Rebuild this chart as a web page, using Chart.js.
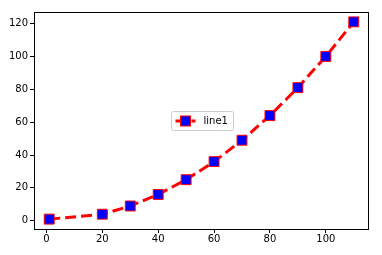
<!DOCTYPE html>
<html><head><meta charset="utf-8">
<script src="https://cdn.jsdelivr.net/npm/chart.js@4/dist/chart.umd.min.js"></script>
<style>html,body{margin:0;padding:0;background:#fff}canvas{display:block}</style>
</head><body>
<canvas id="c" width="382" height="255"></canvas>
<script>
const xValues = [1, 20, 30, 40, 50, 60, 70, 80, 90, 100, 110];
const yValues = [1, 4, 9, 16, 25, 36, 49, 64, 81, 100, 121];
const seriesLabel = 'line1';
const xTicks = [0, 20, 40, 60, 80, 100];
const yTicks = [0, 20, 40, 60, 80, 100, 120];

const FONT = {family: 'DejaVu Sans', size: 10};

const framePlugin = {
  id: 'frame',
  afterDraw(chart) {
    const {ctx, chartArea: a} = chart;
    ctx.save();
    ctx.strokeStyle = '#000';
    ctx.lineWidth = 1;
    ctx.strokeRect(Math.round(a.left) + 0.5, Math.round(a.top) + 0.5,
      Math.round(a.right - a.left) - 1, Math.round(a.bottom - a.top));
    ctx.restore();
  }
};

const legendPlugin = {
  id: 'mplLegend',
  afterDatasetsDraw(chart) {
    const {ctx} = chart;
    const ds = chart.data.datasets[0];
    const x0 = 171.5, y0 = 111.5, w = 62, h = 19;
    ctx.save();
    ctx.fillStyle = 'rgba(255,255,255,0.8)';
    ctx.strokeStyle = '#cccccc';
    ctx.lineWidth = 1;
    ctx.beginPath();
    ctx.roundRect(x0, y0, w, h, 2);
    ctx.fill();
    ctx.stroke();
    const cy = y0 + h / 2;
    ctx.strokeStyle = ds.borderColor;
    ctx.lineWidth = 3;
    ctx.setLineDash([5, 3]);
    ctx.beginPath();
    ctx.moveTo(x0 + 4, cy);
    ctx.lineTo(x0 + 24, cy);
    ctx.stroke();
    ctx.setLineDash([]);
    ctx.fillStyle = ds.pointBackgroundColor;
    ctx.fillRect(x0 + 9, cy - 5, 10, 10);
    ctx.strokeStyle = ds.pointBorderColor;
    ctx.lineWidth = 1;
    ctx.strokeRect(x0 + 9, cy - 5, 10, 10);
    ctx.fillStyle = '#000';
    ctx.font = '10px "DejaVu Sans"';
    ctx.textBaseline = 'middle';
    ctx.fillText(ds.label, x0 + 32, cy + 0.5);
    ctx.restore();
  }
};

new Chart(document.getElementById('c'), {
  type: 'line',
  data: {
    datasets: [{
      label: seriesLabel,
      data: xValues.map((x, i) => ({x: x, y: yValues[i]})),
      borderColor: '#ff0000',
      borderWidth: 3,
      borderDash: [11, 5],
      tension: 0,
      fill: false,
      pointStyle: 'rect',
      pointRadius: 7,
      pointHoverRadius: 7,
      pointBackgroundColor: '#0000ff',
      pointBorderColor: '#ff0000',
      pointBorderWidth: 1
    }]
  },
  options: {
    responsive: false,
    animation: false,
    events: [],
    layout: {padding: {top: 12, right: 13, left: 0, bottom: 0}},
    plugins: {legend: {display: false}, tooltip: {enabled: false}},
    scales: {
      x: {
        type: 'linear',
        min: -4.45, max: 115.45,
        afterBuildTicks(s) { s.ticks = xTicks.map(v => ({value: v})); },
        afterFit(s) { s.height = 26; },
        grid: {display: true, drawOnChartArea: false, drawTicks: true, tickLength: 4, color: '#000', tickColor: '#000'},
        border: {display: false},
        ticks: {color: '#000', font: FONT, padding: 0, maxRotation: 0, autoSkip: false}
      },
      y: {
        type: 'linear',
        min: -5, max: 127,
        afterBuildTicks(s) { s.ticks = yTicks.map(v => ({value: v})); },
        afterFit(s) { s.width = 34; },
        grid: {display: true, drawOnChartArea: false, drawTicks: true, tickLength: 4, color: '#000', tickColor: '#000'},
        border: {display: false},
        ticks: {color: '#000', font: FONT, padding: 2, autoSkip: false}
      }
    }
  },
  plugins: [framePlugin, legendPlugin]
});
</script>
</body></html>
